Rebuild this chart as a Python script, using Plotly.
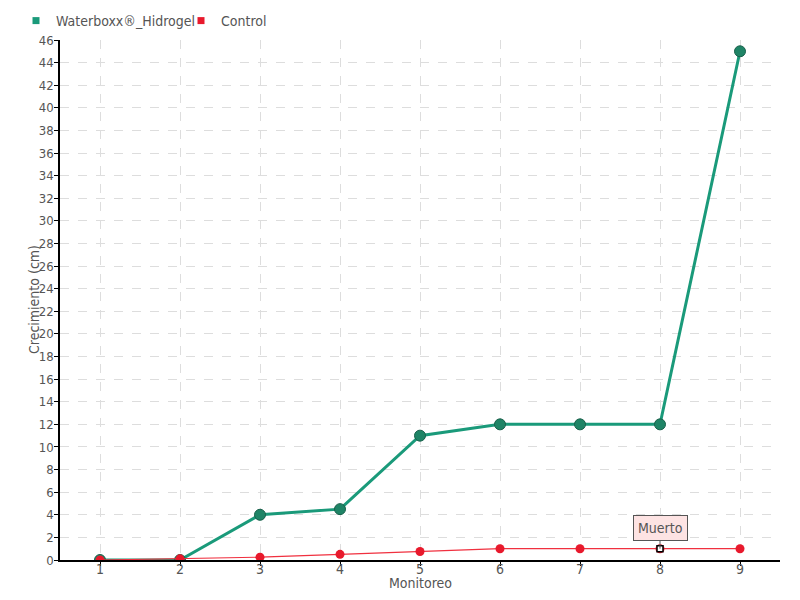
import plotly.graph_objects as go

monitoreo = [1, 2, 3, 4, 5, 6, 7, 8, 9]
waterboxx = [0, 0, 4, 4.5, 11, 12, 12, 12, 45]
control = [0, 0.1, 0.25, 0.5, 0.75, 1, 1, 1, 1]
y_ticks = list(range(0, 47, 2))
muerto_index = 7

FONT = "DejaVu Sans Condensed"
GREY = "#555555"
GREEN = "#1a9a7a"
RED = "#e8192c"

# page body has an 8px margin; compensate so the plot area sits at 60..780 x 40..560
W, H = 792, 592
L, R, T, B = 52, 20, 32, 40
PW = W - L - R
PH = H - T - B

fig = go.Figure()
fig.add_trace(go.Scatter(
    x=monitoreo, y=waterboxx, name="Waterboxx®_Hidrogel", mode="lines+markers",
    line=dict(color=GREEN, width=3), showlegend=False,
    marker=dict(color="#1f8466", size=11, line=dict(color="#17604a", width=1), symbol="circle"),
))
fig.add_trace(go.Scatter(
    x=monitoreo, y=control, name="Control", mode="lines+markers",
    line=dict(color="#f0303f", width=1.2), showlegend=False,
    marker=dict(color=RED, size=9, line=dict(color=RED, width=0)),
))
fig.add_trace(go.Scatter(
    x=[monitoreo[muerto_index]], y=[control[muerto_index]], mode="markers", showlegend=False,
    marker=dict(symbol="square", color="white", size=6, line=dict(color="black", width=1.5)),
    hoverinfo="skip",
))
# legend-only entries with square symbols (two legends to control spacing)
fig.add_trace(go.Scatter(x=[None], y=[None], mode="markers", name="Waterboxx®_Hidrogel",
                         marker=dict(symbol="square", color=GREEN, size=7), legend="legend"))
fig.add_trace(go.Scatter(x=[None], y=[None], mode="markers", name="Control",
                         marker=dict(symbol="square", color=RED, size=7), legend="legend2"))

fig.add_annotation(
    x=monitoreo[muerto_index], y=control[muerto_index], text="Muerto",
    showarrow=True, arrowhead=0, arrowwidth=1, arrowcolor="#555555", ax=0, ay=-21,
    bgcolor="#fde3e3", bordercolor="#555555", borderwidth=1, borderpad=4,
    font=dict(family=FONT, size=14, color=GREY),
)
fig.add_annotation(
    xref="paper", yref="paper", x=0.5, y=0, yshift=-23, showarrow=False,
    text="Monitoreo", font=dict(family=FONT, size=14, color=GREY),
    xanchor="center", yanchor="middle",
)
fig.add_annotation(
    xref="paper", yref="paper", x=0, y=0.5, xshift=-26, showarrow=False,
    text="Crecimiento (cm)", textangle=-90, font=dict(family=FONT, size=14, color=GREY),
    xanchor="center", yanchor="middle",
)

leg_common = dict(orientation="h", yanchor="middle", y=1 + 19 / PH, xanchor="left",
                  font=dict(family=FONT, size=14, color=GREY), itemwidth=30,
                  bgcolor="rgba(0,0,0,0)", borderwidth=0)

fig.update_layout(
    width=W, height=H,
    margin=dict(l=L, r=R, t=T, b=B, autoexpand=False),
    paper_bgcolor="white", plot_bgcolor="white",
    font=dict(family=FONT, size=14, color=GREY),
    showlegend=True,
    legend=dict(x=(8 - L) / PW, **leg_common),
    legend2=dict(x=(173 - L) / PW, **leg_common),
    xaxis=dict(
        range=[0.5, 9.5], tickvals=monitoreo, ticktext=[str(m) for m in monitoreo],
        showline=True, linecolor="black", linewidth=1.5,
        ticks="outside", ticklen=4, tickcolor="black", automargin=False,
        ticklabelstandoff=-9,
        showgrid=True, gridcolor="#dddddd", griddash="dash", zeroline=False,
        tickfont=dict(family=FONT, size=14, color=GREY),
    ),
    yaxis=dict(
        range=[0, 46], tickvals=y_ticks,
        showline=True, linecolor="black", linewidth=1.5,
        ticks="outside", ticklen=4, tickcolor="black", automargin=False,
        ticklabelstandoff=-2,
        showgrid=True, gridcolor="#dddddd", griddash="dash", zeroline=False,
        tickfont=dict(family=FONT, size=13, color=GREY),
    ),
)

fig.write_html("out.html")
